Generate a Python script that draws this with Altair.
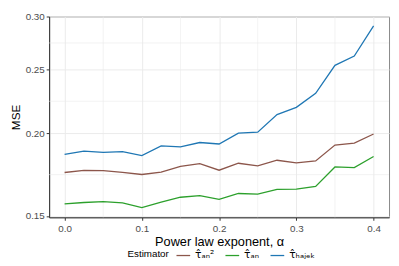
import altair as alt
import pandas as pd

alpha = [0.0, 0.025, 0.05, 0.075, 0.1, 0.125, 0.15, 0.175, 0.2, 0.225,
         0.25, 0.275, 0.3, 0.325, 0.35, 0.375, 0.4]
mse_an2 = [0.1745, 0.1758, 0.1756, 0.1746, 0.1733, 0.1748, 0.1782, 0.1800, 0.1759,
           0.1802, 0.1786, 0.1821, 0.1805, 0.1817, 0.1920, 0.1933, 0.1995]
mse_an = [0.1565, 0.1572, 0.1577, 0.1570, 0.1544, 0.1574, 0.1601, 0.1610, 0.1589,
          0.1622, 0.1619, 0.1646, 0.1647, 0.1663, 0.1779, 0.1775, 0.1845]
mse_hajek = [0.1859, 0.1880, 0.1871, 0.1877, 0.1851, 0.1914, 0.1908, 0.1937, 0.1927,
             0.2001, 0.2008, 0.2135, 0.2189, 0.2299, 0.2534, 0.2617, 0.2907]

series_labels = ["τ̂ₐₙ²", "τ̂ₐₙ", "τ̂ₕₐⱼₑₖ"]
series_colors = ["#8c564b", "#2ca02c", "#1f77b4"]

x_major = [0.0, 0.1, 0.2, 0.3, 0.4]
x_minor = [0.05, 0.15, 0.25, 0.35]
y_major = [0.15, 0.20, 0.25, 0.30]
y_minor = [0.1732, 0.2236, 0.2739]
x_domain = [-0.02, 0.42]
y_domain = [0.1493, 0.3003]

rows = []
for lab, vals in zip(series_labels, [mse_an2, mse_an, mse_hajek]):
    for a, v in zip(alpha, vals):
        rows.append({"alpha": a, "mse": v, "Estimator": lab})
df = pd.DataFrame(rows)

xscale = alt.Scale(domain=x_domain, nice=False, zero=False)
yscale = alt.Scale(type="log", domain=y_domain, nice=False, zero=False)
xaxis = alt.Axis(values=x_major, format=".1f", title="Power law exponent, α")
yaxis = alt.Axis(values=y_major, format=".2f", title="MSE")

grid_col = "#ebebeb"

xminor = alt.Chart(pd.DataFrame({"x": x_minor})).mark_rule(
    color=grid_col, strokeWidth=0.6
).encode(x=alt.X("x:Q", scale=xscale, axis=xaxis))

yminor = alt.Chart(pd.DataFrame({"y": y_minor})).mark_rule(
    color=grid_col, strokeWidth=0.6
).encode(y=alt.Y("y:Q", scale=yscale, axis=yaxis))

lines = alt.Chart(df).mark_line(strokeWidth=1.3).encode(
    x=alt.X("alpha:Q", scale=xscale, axis=xaxis),
    y=alt.Y("mse:Q", scale=yscale, axis=yaxis),
    color=alt.Color("Estimator:N",
                    scale=alt.Scale(domain=series_labels, range=series_colors),
                    sort=series_labels,
                    legend=alt.Legend(orient="none", legendX=80, legendY=236,
                                      direction="horizontal", titleOrient="left",
                                      symbolType="stroke", symbolSize=196,
                                      symbolStrokeWidth=1.3, labelFontSize=11,
                                      titleFontSize=10, titleFontWeight="normal",
                                      titleColor="#000000", labelColor="#000000",
                                      columnPadding=8, labelOffset=4,
                                      titlePadding=6)),
)

chart = alt.layer(xminor, yminor, lines).properties(
    width=347, height=205,
    autosize=alt.AutoSizeParams(type="none"),
    padding={"left": 42, "top": 6, "right": 2, "bottom": 47},
).configure_view(
    stroke="#888888", strokeWidth=1
).configure_axis(
    gridColor=grid_col, gridWidth=1,
    domainColor="#333333", domainWidth=1,
    tickColor="#333333", tickSize=3,
    labelColor="#4d4d4d", labelFontSize=10, labelFont="Liberation Sans",
    titleFont="Liberation Sans", titleFontWeight="normal", titleColor="#000000",
).configure_axisX(
    titleFontSize=13, labelPadding=3, titlePadding=3,
).configure_axisY(
    titleFontSize=12, labelPadding=2, titlePadding=3,
).configure_legend(
    labelFont="DejaVu Sans", titleFont="Liberation Sans",
)

chart.save("out.html", embed_options={"renderer": "svg", "actions": False})
